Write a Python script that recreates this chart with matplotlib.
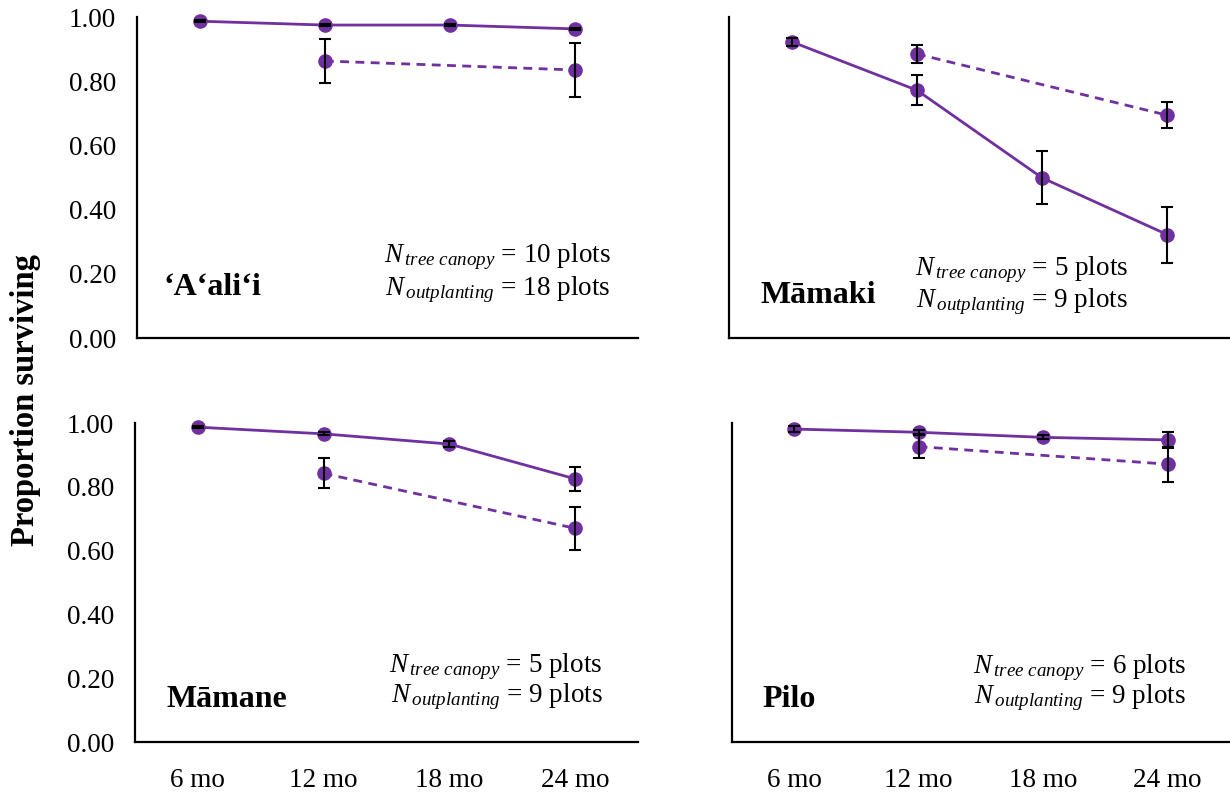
import numpy as np
import matplotlib
matplotlib.use('Agg')
import matplotlib.pyplot as plt

plt.rcParams['font.family'] = ['Liberation Serif', 'DejaVu Serif']
plt.rcParams['mathtext.fontset'] = 'custom'
plt.rcParams['mathtext.rm'] = 'Liberation Serif'
plt.rcParams['mathtext.it'] = 'Liberation Serif:italic'

months = ['6 mo', '12 mo', '18 mo', '24 mo']
species = ['\u2018A\u2018ali\u2018i', 'M\u0101maki', 'M\u0101mane', 'Pilo']

# tree canopy plots, surveyed at every census
canopy_mean = [[0.987, 0.975, 0.975, 0.963],
               [0.923, 0.772, 0.499, 0.322],
               [0.987, 0.966, 0.934, 0.825],
               [0.981, 0.971, 0.955, 0.947]]
canopy_err = [[0.004, 0.004, 0.004, 0.004],
              [0.012, 0.047, 0.083, 0.087],
              [0.004, 0.005, 0.010, 0.037],
              [0.010, 0.006, 0.006, 0.025]]

# outplanting plots, only surveyed at 12 and 24 mo
outplant_months = [1, 3]
outplant_mean = [[0.863, 0.835],
                 [0.885, 0.694],
                 [0.842, 0.670],
                 [0.926, 0.871]]
outplant_err = [[0.070, 0.084],
                [0.028, 0.040],
                [0.047, 0.068],
                [0.035, 0.055]]

n_canopy = [10, 5, 5, 6]
n_outplant = [18, 9, 9, 9]

purple = '#7030A0'

# label / annotation placement per panel (axes fraction)
name_pos = [(0.053, 0.156), (0.062, 0.134), (0.062, 0.132), (0.062, 0.132)]
n_pos = [(0.945, 0.252, 0.150), (0.796, 0.212, 0.112),
         (0.930, 0.235, 0.141), (0.912, 0.232, 0.138)]

fig = plt.figure(figsize=(12.3, 7.92), dpi=100)
boxes = [[0.1114, 0.5732, 0.4073, 0.4053],
         [0.5927, 0.5732, 0.4073, 0.4053],
         [0.1097, 0.0631, 0.4089, 0.4028],
         [0.5949, 0.0631, 0.4051, 0.4028]]

x = np.arange(len(months))
for k in range(4):
    ax = fig.add_axes(boxes[k])
    ax.plot(x, canopy_mean[k], color=purple, lw=2.0, marker='o', ms=9.5,
            clip_on=False, zorder=3)
    ax.errorbar(x, canopy_mean[k], yerr=canopy_err[k], fmt='none', ecolor='black',
                elinewidth=1.5, capsize=4.5, capthick=1.5, clip_on=False, zorder=4)
    ax.plot(outplant_months, outplant_mean[k], color=purple, lw=2.0, ls=(0, (3.2, 2.3)),
            marker='o', ms=9.5, clip_on=False, zorder=3)
    ax.errorbar(outplant_months, outplant_mean[k], yerr=outplant_err[k], fmt='none',
                ecolor='black', elinewidth=1.5, capsize=4.5, capthick=1.5,
                clip_on=False, zorder=4)

    ax.set_xlim(-0.5, 3.5)
    ax.set_ylim(0, 1.0)
    ax.set_yticks(np.arange(0, 1.01, 0.2))
    ax.set_xticks(x)
    for side in ['top', 'right']:
        ax.spines[side].set_visible(False)
    for side in ['left', 'bottom']:
        ax.spines[side].set_linewidth(1.6)
    ax.tick_params(length=0, labelsize=19.5, pad=15)
    ax.tick_params(axis='x', pad=19)
    if k % 2 == 0:
        ax.set_yticklabels(['%.2f' % v for v in np.arange(0, 1.01, 0.2)])
    else:
        ax.set_yticklabels([])
    if k >= 2:
        ax.set_xticklabels(months)
    else:
        ax.set_xticklabels([])

    ax.text(name_pos[k][0], name_pos[k][1], species[k], transform=ax.transAxes,
            fontsize=23, fontweight='bold', va='center', ha='left')
    nx, ny1, ny2 = n_pos[k]
    ax.text(nx, ny1, r'$\mathit{N}_{\,\mathit{tree\ canopy}}$ = %d plots' % n_canopy[k],
            transform=ax.transAxes, fontsize=19.5, ha='right', va='center')
    ax.text(nx, ny2, r'$\mathit{N}_{\,\mathit{outplanting}}$ = %d plots' % n_outplant[k],
            transform=ax.transAxes, fontsize=19.5, ha='right', va='center')

fig.text(0.021, 0.495, 'Proportion surviving', rotation=90, fontsize=23.5,
         fontweight='bold', ha='center', va='center')

fig.savefig('out.png', dpi=100)
